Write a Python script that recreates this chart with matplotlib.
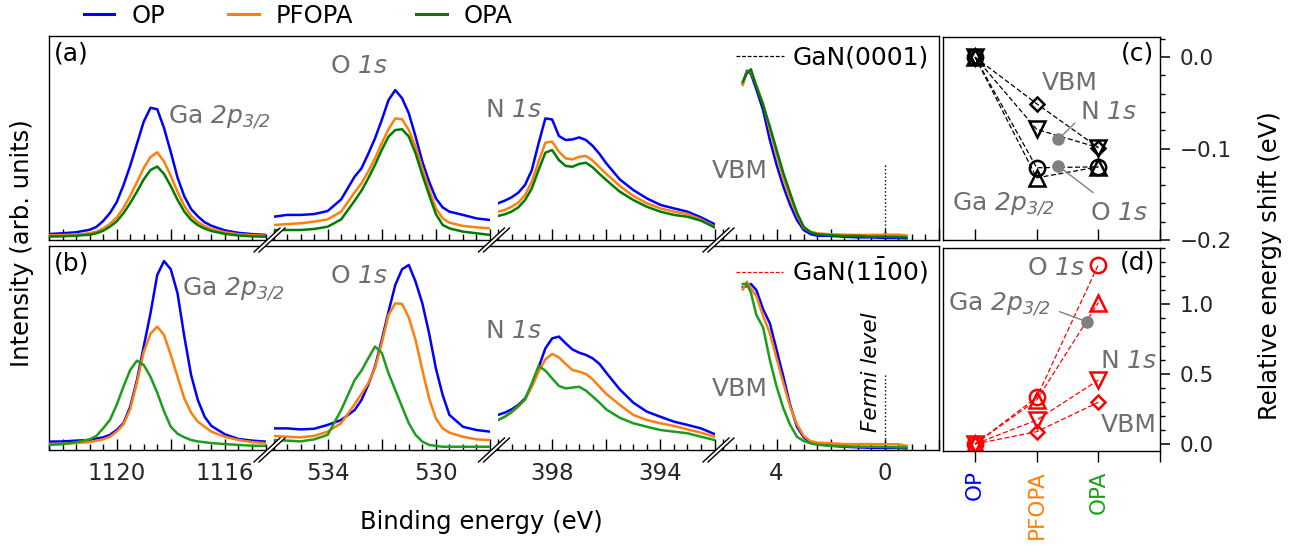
import numpy as np
import matplotlib
matplotlib.use('Agg')
import matplotlib.pyplot as plt
from matplotlib.lines import Line2D
from matplotlib.patches import Polygon
from matplotlib.ticker import MultipleLocator, FuncFormatter

plt.rcParams['font.family'] = 'DejaVu Sans'
# italic digits in "1s", "2p3/2": math roman -> italic face, bold slot used for upright bar
plt.rcParams['mathtext.fontset'] = 'custom'
plt.rcParams['mathtext.rm'] = 'DejaVu Sans:italic'
plt.rcParams['mathtext.it'] = 'DejaVu Sans:italic'
plt.rcParams['mathtext.bf'] = 'DejaVu Sans'

# ---------------- spectra (intensity as fraction of panel height) ----------------
ga_be = [1122.5, 1122, 1121.5, 1121, 1120.75, 1120.5, 1120.25, 1120, 1119.75, 1119.5, 1119.25, 1119,
         1118.75, 1118.5, 1118.25, 1118, 1117.75, 1117.5, 1117.25, 1117, 1116.75, 1116.5, 1116, 1115.5,
         1115, 1114.5]
o_be = [536, 535.5, 535, 534.5, 534, 533.5, 533, 532.75, 532.5, 532.25, 532, 531.75, 531.5, 531.25,
        531, 530.75, 530.5, 530.25, 530, 529.75, 529.5, 529, 528.5, 528]
n_be = [400, 399.75, 399.5, 399.25, 399, 398.75, 398.5, 398.25, 398, 397.75, 397.5, 397.25, 397,
        396.75, 396.5, 396.25, 396, 395.5, 395, 394.5, 394, 393.5, 393, 392.5, 392]
vb_be = [5.25, 5.1, 4.95, 4.75, 4.5, 4.25, 4.0, 3.75, 3.5, 3.25, 3.0, 2.75, 2.5, 2.0, 1.5, 1.0, 0.5,
         0.0, -0.5, -0.8]

# (a) GaN(0001)
ga_op_a = [0.029, 0.033, 0.038, 0.050, 0.064, 0.093, 0.132, 0.185, 0.268, 0.364, 0.472, 0.580, 0.648,
           0.641, 0.549, 0.431, 0.306, 0.214, 0.152, 0.116, 0.087, 0.070, 0.047, 0.035, 0.029, 0.025]
ga_pfopa_a = [0.023, 0.024, 0.027, 0.033, 0.041, 0.056, 0.079, 0.110, 0.157, 0.216, 0.283, 0.353, 0.407,
              0.430, 0.385, 0.314, 0.235, 0.167, 0.119, 0.088, 0.068, 0.054, 0.038, 0.028, 0.024, 0.021]
ga_opa_a = [0.017, 0.018, 0.021, 0.026, 0.033, 0.045, 0.065, 0.091, 0.131, 0.181, 0.237, 0.297, 0.343,
            0.360, 0.324, 0.264, 0.197, 0.139, 0.099, 0.073, 0.056, 0.044, 0.030, 0.022, 0.018, 0.016]
o_op_a = [0.114, 0.123, 0.123, 0.127, 0.142, 0.199, 0.311, 0.351, 0.422, 0.498, 0.588, 0.686, 0.735,
          0.695, 0.621, 0.507, 0.384, 0.286, 0.204, 0.160, 0.139, 0.123, 0.106, 0.098]
o_pfopa_a = [0.073, 0.078, 0.082, 0.090, 0.101, 0.139, 0.234, 0.278, 0.335, 0.400, 0.474, 0.543, 0.596,
             0.592, 0.539, 0.458, 0.351, 0.248, 0.155, 0.106, 0.085, 0.069, 0.062, 0.057]
o_opa_a = [0.049, 0.049, 0.049, 0.054, 0.065, 0.101, 0.193, 0.242, 0.302, 0.368, 0.441, 0.507, 0.539,
           0.543, 0.507, 0.425, 0.319, 0.221, 0.127, 0.074, 0.057, 0.041, 0.033, 0.025]
n_op_a = [0.180, 0.193, 0.209, 0.232, 0.270, 0.343, 0.474, 0.596, 0.591, 0.510, 0.490, 0.493, 0.503,
          0.490, 0.461, 0.422, 0.376, 0.297, 0.245, 0.204, 0.172, 0.155, 0.139, 0.111, 0.078]
n_pfopa_a = [0.139, 0.147, 0.163, 0.183, 0.221, 0.286, 0.384, 0.477, 0.482, 0.433, 0.400, 0.395, 0.408,
             0.412, 0.389, 0.356, 0.324, 0.265, 0.216, 0.180, 0.155, 0.139, 0.127, 0.101, 0.065]
n_opa_a = [0.118, 0.126, 0.139, 0.160, 0.196, 0.253, 0.343, 0.428, 0.441, 0.392, 0.363, 0.359, 0.373,
           0.379, 0.356, 0.324, 0.294, 0.237, 0.196, 0.163, 0.139, 0.123, 0.114, 0.095, 0.062]
vb_op_a = [0.768, 0.830, 0.815, 0.739, 0.637, 0.490, 0.368, 0.261, 0.172, 0.098, 0.049, 0.029, 0.021,
           0.020, 0.016, 0.013, 0.013, 0.010, 0.010, 0.008]
vb_pfopa_a = [0.760, 0.825, 0.825, 0.760, 0.670, 0.539, 0.417, 0.302, 0.204, 0.123, 0.060, 0.041, 0.033,
              0.028, 0.026, 0.025, 0.025, 0.026, 0.026, 0.023]
vb_opa_a = [0.776, 0.817, 0.837, 0.752, 0.662, 0.556, 0.441, 0.327, 0.229, 0.134, 0.065, 0.038, 0.028,
            0.023, 0.020, 0.020, 0.016, 0.016, 0.015, 0.013]

# (b) GaN(1-100)
ga_op_b = [0.041, 0.042, 0.046, 0.049, 0.056, 0.062, 0.074, 0.098, 0.131, 0.212, 0.343, 0.507, 0.670,
           0.858, 0.926, 0.886, 0.768, 0.556, 0.368, 0.245, 0.163, 0.118, 0.077, 0.054, 0.046, 0.041]
ga_pfopa_b = [0.029, 0.030, 0.034, 0.039, 0.046, 0.052, 0.065, 0.090, 0.125, 0.200, 0.330, 0.480, 0.570,
              0.605, 0.564, 0.466, 0.359, 0.253, 0.183, 0.139, 0.114, 0.090, 0.065, 0.049, 0.039, 0.033]
ga_opa_b = [0.025, 0.029, 0.038, 0.052, 0.069, 0.106, 0.147, 0.221, 0.310, 0.392, 0.438, 0.417, 0.359,
            0.281, 0.190, 0.114, 0.080, 0.062, 0.049, 0.042, 0.038, 0.034, 0.029, 0.025, 0.021, 0.020]
o_op_b = [0.106, 0.106, 0.101, 0.104, 0.123, 0.147, 0.196, 0.245, 0.319, 0.408, 0.539, 0.678, 0.809,
          0.886, 0.907, 0.825, 0.719, 0.572, 0.400, 0.270, 0.172, 0.114, 0.098, 0.090]
o_pfopa_b = [0.069, 0.065, 0.062, 0.069, 0.090, 0.131, 0.225, 0.275, 0.327, 0.400, 0.523, 0.662, 0.719,
             0.716, 0.650, 0.539, 0.392, 0.253, 0.155, 0.106, 0.085, 0.065, 0.052, 0.049]
o_opa_b = [0.049, 0.046, 0.042, 0.052, 0.074, 0.196, 0.343, 0.389, 0.449, 0.507, 0.477, 0.376, 0.294,
           0.212, 0.131, 0.074, 0.041, 0.025, 0.020, 0.016, 0.016, 0.016, 0.016, 0.016]
n_op_b = [0.172, 0.183, 0.199, 0.221, 0.253, 0.319, 0.405, 0.498, 0.547, 0.556, 0.523, 0.493, 0.477,
          0.466, 0.449, 0.422, 0.379, 0.297, 0.232, 0.188, 0.163, 0.139, 0.123, 0.106, 0.078]
n_pfopa_b = [0.147, 0.163, 0.183, 0.212, 0.248, 0.310, 0.384, 0.444, 0.471, 0.454, 0.422, 0.392, 0.384,
             0.373, 0.346, 0.310, 0.275, 0.221, 0.172, 0.147, 0.131, 0.118, 0.101, 0.085, 0.065]
n_opa_b = [0.147, 0.163, 0.188, 0.216, 0.248, 0.327, 0.412, 0.389, 0.351, 0.314, 0.302, 0.306, 0.310,
           0.291, 0.262, 0.232, 0.199, 0.158, 0.131, 0.114, 0.098, 0.090, 0.082, 0.065, 0.049]
vb_op_b = [0.797, 0.804, 0.814, 0.784, 0.690, 0.621, 0.490, 0.359, 0.221, 0.114, 0.062, 0.038, 0.028,
           0.021, 0.016, 0.013, 0.011, 0.010, 0.010, 0.008]
vb_pfopa_b = [0.787, 0.825, 0.792, 0.755, 0.657, 0.572, 0.449, 0.327, 0.212, 0.126, 0.069, 0.044, 0.036,
              0.033, 0.029, 0.029, 0.029, 0.028, 0.028, 0.021]
vb_opa_b = [0.814, 0.814, 0.771, 0.662, 0.601, 0.441, 0.310, 0.204, 0.123, 0.065, 0.044, 0.033, 0.026,
            0.021, 0.018, 0.016, 0.016, 0.015, 0.013, 0.013]

# ---------------- relative energy shifts (eV) ----------------
samples = ['OP', 'PFOPA', 'OPA']
o_shift_c = [0.0, -0.121, -0.120]
ga_shift_c = [0.0, -0.132, -0.120]
n_shift_c = [0.0, -0.079, -0.099]
vbm_shift_c = [0.0, -0.051, -0.099]
o_shift_d = [0.0, 0.333, 1.28]
ga_shift_d = [0.0, 0.314, 1.01]
n_shift_d = [0.0, 0.171, 0.457]
vbm_shift_d = [0.0, 0.088, 0.298]
# grey pointer dots of the labels
dot_c_n = (1.35, -0.090)
dot_c_o = (1.35, -0.119)
dot_d_ga = (1.81, 0.874)

# ---------------- figure ----------------
W, H = 1296, 552
fig = plt.figure(figsize=(W / 100, H / 100), dpi=100)


def box(x0, y0, x1, y1):
    # pixel box (origin top-left) -> figure rect
    return [x0 / W, 1 - y1 / H, (x1 - x0) / W, (y1 - y0) / H]


blue, orange = '#0000ff', '#ff7f0e'
green_a, green_b = '#007d00', '#1c9e1c'
gray = '#6e6e6e'
tcol = '#262626'

GA = 'Ga $2p_{3/2}$'
O1S = 'O $1s$'
N1S = 'N $1s$'

seg_x = [49, 273.5, 498, 722.5]
seg_w = 216.5
seg_lims = [(1122.5, 1114.5), (536, 528), (400, 392), (6, -2)]
seg_labels = [(1120, 1116), (534, 530), (398, 394), (4, 0)]
grids = [ga_be, o_be, n_be, vb_be]

rows = [
    dict(top=36, bot=240, green=green_a, tag='(a)',
         curves=[(ga_op_a, ga_pfopa_a, ga_opa_a), (o_op_a, o_pfopa_a, o_opa_a),
                 (n_op_a, n_pfopa_a, n_opa_a), (vb_op_a, vb_pfopa_a, vb_opa_a)],
         txt=[(1118.1, 0.572), (533.9, 0.817), (400.47, 0.601), (6.4, 0.305)],
         leg='GaN(0001)', legc='k'),
    dict(top=246, bot=450, green=green_b, tag='(b)',
         curves=[(ga_op_b, ga_pfopa_b, ga_opa_b), (o_op_b, o_pfopa_b, o_opa_b),
                 (n_op_b, n_pfopa_b, n_opa_b), (vb_op_b, vb_pfopa_b, vb_opa_b)],
         txt=[(1117.6, 0.760), (533.9, 0.817), (400.47, 0.548), (6.4, 0.265)],
         leg='GaN(1$\\mathbf{\\bar{1}}$00)', legc='red'),
]
names = [GA, O1S, N1S, 'VBM']

for r, row in enumerate(rows):
    frame = fig.add_axes(box(49, row['top'], 938.5, row['bot']))
    frame.set_xticks([])
    frame.set_yticks([])
    frame.set_zorder(0)
    for sp in frame.spines.values():
        sp.set_linewidth(1.0)
    frame.text(0.006, 0.975, row['tag'], transform=frame.transAxes, fontsize=18, va='top', ha='left')
    h = Line2D([], [], color=row['legc'], lw=0.9, ls=(0, (3, 1.5)))
    frame.legend([h], [row['leg']], loc='upper right', frameon=False, fontsize=18,
                 handlelength=1.9, handletextpad=0.35, borderaxespad=0.15, borderpad=0.25)

    for i in range(4):
        ax = fig.add_axes(box(seg_x[i], row['top'], seg_x[i] + seg_w, row['bot']))
        ax.set_zorder(1)
        ax.patch.set_visible(False)
        for sp in ax.spines.values():
            sp.set_visible(False)
        op, pf, opa = row['curves'][i]
        ax.plot(grids[i], op, color=blue, lw=1.8)
        ax.plot(grids[i], pf, color=orange, lw=1.8)
        ax.plot(grids[i], opa, color=row['green'], lw=1.8)
        ax.set_xlim(*seg_lims[i])
        ax.set_ylim(0, 1)
        ax.set_yticks([])
        ax.xaxis.set_major_locator(MultipleLocator(2))
        ax.xaxis.set_minor_locator(MultipleLocator(0.5))
        labs = seg_labels[i]
        if r == 1:
            ax.xaxis.set_major_formatter(FuncFormatter(
                lambda v, p, labs=labs: f'{v:g}' if any(abs(v - l) < 1e-6 for l in labs) else ''))
        else:
            ax.set_xticklabels([])
        ax.tick_params(axis='x', which='major', direction='in', length=8, width=1,
                       labelsize=16.5, pad=9, labelcolor=tcol)
        ax.tick_params(axis='x', which='minor', direction='in', length=4, width=1)
        tx, ty = row['txt'][i]
        ax.text(tx, ty, names[i], color=gray, fontsize=18, ha='left', va='baseline')
        if i == 3:
            ax.axvline(0, ymin=0, ymax=0.37, color='k', ls=':', lw=1)
            if r == 1:
                ax.text(0.15, 0.088, 'Fermi level', rotation=90, fontstyle='italic',
                        fontsize=15.5, ha='right', va='bottom')

    # axis break marks
    yb = row['bot']
    for gx in [269.5, 494, 718.5]:
        poly = [(gx - 2.5 - 13, yb + 12), (gx - 2.5 + 13, yb - 12),
                (gx + 2.5 + 13, yb - 12), (gx + 2.5 - 13, yb + 12)]
        fig.add_artist(Polygon([(px / W, 1 - py / H) for px, py in poly], closed=True,
                               facecolor='white', edgecolor='none', zorder=5))
        for o in (-2.5, 2.5):
            fig.add_artist(Line2D([(gx + o - 13) / W, (gx + o + 13) / W],
                                  [1 - (yb + 12) / H, 1 - (yb - 12) / H],
                                  color='k', lw=1, zorder=6))

fig.text(22 / W, 1 - 243 / H, 'Intensity (arb. units)', rotation=90, ha='center', va='center',
         fontsize=17.5)
fig.text(481 / W, 1 - 522 / H, 'Binding energy (eV)', ha='center', va='center', fontsize=17.5)

leg_handles = [Line2D([], [], color=c, lw=2.2) for c in (blue, orange, green_a)]
fig.legend(leg_handles, samples, loc='center left', bbox_to_anchor=(84 / W, 1 - 16 / H), ncol=3,
           frameon=False, fontsize=17.5, handlelength=1.25, handletextpad=0.7, columnspacing=2.6,
           borderaxespad=0, borderpad=0)

# ---------------- shift panels ----------------
ax_c = fig.add_axes(box(943, 37, 1160, 240))
ax_d = fig.add_axes(box(943, 248, 1160, 451))
xs = [0, 1, 2]
dash = (0, (4, 2))
for ax, col, sets in [
    (ax_c, 'k', [(o_shift_c, 'o', 11), (ga_shift_c, '^', 11), (n_shift_c, 'v', 11), (vbm_shift_c, 'D', 7.5)]),
    (ax_d, 'red', [(o_shift_d, 'o', 11), (ga_shift_d, '^', 11), (n_shift_d, 'v', 11), (vbm_shift_d, 'D', 7.5)]),
]:
    for vals, m, ms in sets:
        ax.plot(xs, vals, ls=dash, lw=0.9, color=col, marker=m, ms=ms, mfc='none', mew=1.8)
    ax.set_xlim(-0.52, 3.0)
    ax.set_xticks([0, 1, 2, 3])
    ax.yaxis.tick_right()
    ax.tick_params(axis='y', which='major', direction='out', length=7, width=1.1, labelsize=15.5,
                   pad=7, labelcolor=tcol)
    ax.tick_params(axis='y', which='minor', direction='out', length=3.5, width=1)
    for sp in ax.spines.values():
        sp.set_linewidth(1.0)

ax_c.set_ylim(-0.2, 0.022)
ax_c.yaxis.set_major_locator(MultipleLocator(0.1))
ax_c.yaxis.set_minor_locator(MultipleLocator(0.02))
ax_c.set_xticklabels([])
ax_c.tick_params(axis='x', direction='in', length=8, width=1)

ax_d.set_ylim(-0.05, 1.4)
ax_d.yaxis.set_major_locator(MultipleLocator(0.5))
ax_d.yaxis.set_minor_locator(MultipleLocator(0.1))
ax_d.set_xticklabels(samples + [''], rotation=90, fontsize=15.5)
ax_d.tick_params(axis='x', direction='out', length=8, width=1, pad=6)
for lab, c in zip(ax_d.get_xticklabels(), [blue, orange, green_b, 'k']):
    lab.set_color(c)

# labels + pointers
ax_c.plot(*dot_c_n, 'o', color='gray', ms=8)
ax_c.plot(*dot_c_o, 'o', color='gray', ms=8)
ax_c.annotate('', xy=dot_c_n, xytext=(1.65, -0.070), arrowprops=dict(arrowstyle='-', color='gray', lw=1))
ax_c.annotate('', xy=dot_c_o, xytext=(1.95, -0.150), arrowprops=dict(arrowstyle='-', color='gray', lw=1))
ax_c.text(1.083, -0.036, 'VBM', color=gray, fontsize=18, va='baseline')
ax_c.text(1.705, -0.0676, N1S, color=gray, fontsize=18, va='baseline')
ax_c.text(-0.378, -0.167, GA, color=gray, fontsize=18, va='baseline')
ax_c.text(1.87, -0.178, O1S, color=gray, fontsize=18, va='baseline')
ax_c.text(2.63, 0.004, '(c)', fontsize=18, ha='center', va='center')

ax_d.plot(*dot_d_ga, 'o', color='gray', ms=8)
ax_d.annotate('', xy=dot_d_ga, xytext=(1.33, 0.952), arrowprops=dict(arrowstyle='-', color='gray', lw=1))
ax_d.text(0.839, 1.207, O1S, color=gray, fontsize=18, va='baseline')
ax_d.text(-0.433, 0.957, GA, color=gray, fontsize=18, va='baseline')
ax_d.text(2.03, 0.541, N1S, color=gray, fontsize=18, va='baseline')
ax_d.text(2.04, 0.088, 'VBM', color=gray, fontsize=18, va='baseline')
ax_d.text(2.63, 1.293, '(d)', fontsize=18, ha='center', va='center')

fig.text(1270 / W, 1 - 266 / H, 'Relative energy shift (eV)', rotation=90, ha='center', va='center',
         fontsize=17.5)

fig.savefig('out.png', dpi=100)
